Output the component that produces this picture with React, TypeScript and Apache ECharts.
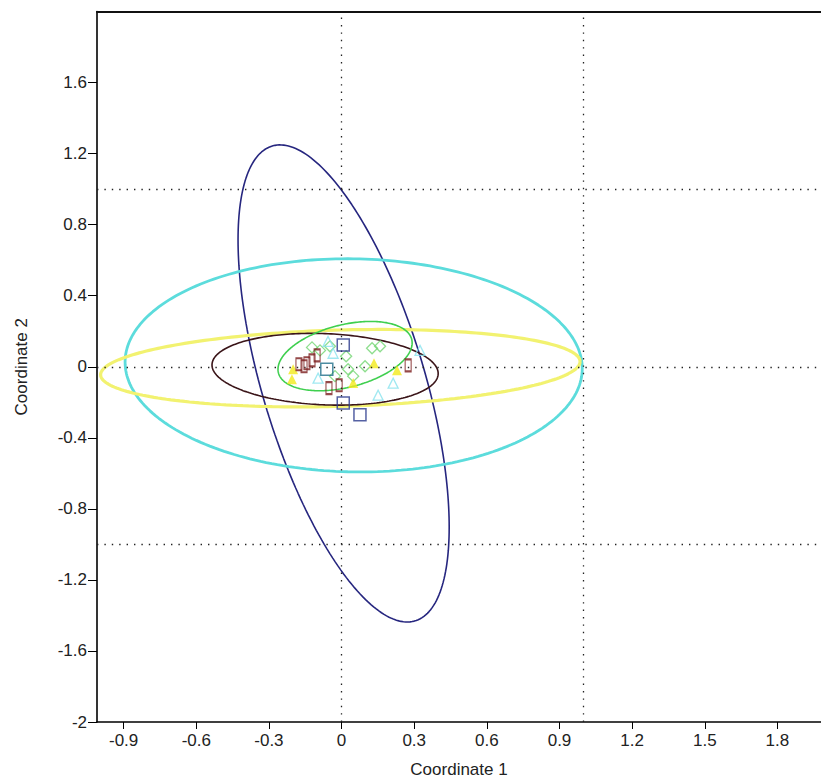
import React, { useEffect, useRef } from "react";
import * as echarts from "echarts";

// ---------- axis ticks ----------
const xTicks = [-0.9, -0.6, -0.3, 0, 0.3, 0.6, 0.9, 1.2, 1.5, 1.8];
const yTicks = [-2, -1.6, -1.2, -0.8, -0.4, 0, 0.4, 0.8, 1.2, 1.6];
const refLinesX = [0, 1];
const refLinesY = [-1, 0, 1];

// ---------- groups ----------
const navyPoints = [
  [0.007, 0.122],
  [-0.061, -0.014],
  [0.007, -0.204],
  [0.076, -0.27],
];
const cyanPoints = [
  [-0.056, 0.143],
  [-0.035, 0.076],
  [-0.097, -0.064],
  [0.151, -0.16],
  [0.213, -0.092],
  [0.324, 0.092],
];
const yellowPoints = [
  [-0.2, -0.014],
  [-0.205, -0.07],
  [0.048, -0.092],
  [0.134, 0.02],
  [0.229, -0.02],
];
const maroonPoints = [
  [-0.176, 0.014],
  [-0.155, 0.003],
  [-0.143, 0.02],
  [-0.122, 0.036],
  [-0.101, 0.064],
  [-0.052, -0.12],
  [-0.01, -0.104],
  [0.275, 0.008],
];
const greenPoints = [
  [-0.122, 0.109],
  [-0.089, 0.092],
  [-0.048, 0.115],
  [0.019, 0.059],
  [0.027, -0.014],
  [0.048, -0.053],
  [0.097, 0.003],
  [0.126, 0.104],
  [0.159, 0.115],
  [-0.027, -0.053],
];

// ---------- 95% ellipses: centre, half extents, correlation ----------
// order: navy, cyan, yellow, maroon, green
const ellipseCenterX = [0.0085, 0.05, -0.005, -0.068, 0.0145];
const ellipseCenterY = [-0.094, 0.008, -0.008, -0.014, 0.06];
const ellipseHalfX = [0.436, 0.944, 0.99, 0.467, 0.277];
const ellipseHalfY = [1.343, 0.6, 0.218, 0.202, 0.195];
const ellipseCorr = [-0.602, -0.03, 0.17, -0.12, 0.38];

// ---------- styles ----------
const ellipseColors = ["#26267f", "#5cdcdc", "#f2f270", "#3a1418", "#3fcf4f"];
const ellipseWidths = [1.6, 2.8, 3.2, 1.6, 1.6];
const FONT = "Liberation Sans, Arial, sans-serif";
const FONT_SIZE = 17;

function ellipseOutline(i: number): number[][] {
  const cx = ellipseCenterX[i];
  const cy = ellipseCenterY[i];
  const rx = ellipseHalfX[i];
  const ry = ellipseHalfY[i];
  const r = ellipseCorr[i];
  const s = Math.sqrt(1 - r * r);
  const pts: number[][] = [];
  const n = 240;
  for (let k = 0; k <= n; k++) {
    const t = (2 * Math.PI * k) / n;
    pts.push([cx + rx * Math.cos(t), cy + ry * (r * Math.cos(t) + s * Math.sin(t))]);
  }
  return pts;
}

const fmt = (v: number) => String(Math.round(v * 10) / 10);

export default function App() {
  const ref = useRef<HTMLDivElement>(null);
  useEffect(() => {
    if (!ref.current) return;
    const chart = echarts.init(ref.current, undefined, { renderer: "svg" });

    const ellipseSeries = ellipseColors.map((c, i) => ({
      type: "line",
      data: ellipseOutline(i),
      showSymbol: false,
      symbol: "none",
      smooth: false,
      silent: true,
      lineStyle: { color: c, width: ellipseWidths[i] },
      z: 2,
    }));

    const dotted = { color: "#222", width: 1.3, type: [1.4, 6] as any };

    chart.setOption({
      animation: false,
      backgroundColor: "#ffffff",
      grid: { left: 97, right: 0, top: 11.5, bottom: 57.5, containLabel: false },
      xAxis: [
        {
          type: "value",
          min: -1.01,
          max: 1.98,
          position: "bottom",
          splitLine: { show: false },
          axisLine: { show: true, onZero: false, lineStyle: { color: "#000", width: 1.6 } },
          axisTick: { show: true, customValues: xTicks, length: 7, lineStyle: { color: "#000", width: 1 } },
          axisLabel: {
            customValues: xTicks,
            formatter: fmt,
            color: "#222",
            fontFamily: FONT,
            fontSize: FONT_SIZE,
            margin: 10,
          },
          name: "Coordinate 1",
          nameLocation: "middle",
          nameGap: 39,
          nameTextStyle: { color: "#222", fontFamily: FONT, fontSize: FONT_SIZE },
        },
        {
          type: "value",
          min: -1.01,
          max: 1.98,
          position: "top",
          splitLine: { show: false },
          axisLine: { show: true, onZero: false, lineStyle: { color: "#111", width: 2 } },
          axisTick: { show: false },
          axisLabel: { show: false },
        },
      ],
      yAxis: {
        type: "value",
        min: -2,
        max: 2,
        splitLine: { show: false },
        axisLine: { show: true, onZero: false, lineStyle: { color: "#000", width: 1.6 } },
        axisTick: { show: true, customValues: yTicks, length: 9, lineStyle: { color: "#000", width: 1 } },
        axisLabel: {
          customValues: yTicks,
          formatter: fmt,
          color: "#222",
          fontFamily: FONT,
          fontSize: FONT_SIZE,
          margin: 10,
        },
        name: "Coordinate 2",
        nameLocation: "middle",
        nameGap: 67,
        nameTextStyle: { color: "#222", fontFamily: FONT, fontSize: FONT_SIZE },
      },
      series: [
        {
          type: "line",
          data: [],
          silent: true,
          markLine: {
            silent: true,
            symbol: "none",
            label: { show: false },
            lineStyle: dotted,
            data: [
              ...refLinesX.map((v) => ({ xAxis: v })),
              ...refLinesY.map((v) => ({ yAxis: v })),
            ],
          },
        },
        ...ellipseSeries,
        {
          type: "scatter",
          data: greenPoints,
          symbol: "diamond",
          symbolSize: 11,
          itemStyle: { color: "rgba(0,0,0,0)", borderColor: "#72d672", borderWidth: 1.3 },
          z: 3,
        },
        {
          type: "scatter",
          data: cyanPoints,
          symbol: "triangle",
          symbolSize: 10,
          itemStyle: { color: "rgba(0,0,0,0)", borderColor: "#88e2ee", borderWidth: 1.3 },
          z: 3,
        },
        {
          type: "scatter",
          data: yellowPoints,
          symbol: "triangle",
          symbolSize: 10,
          itemStyle: { color: "#f2ea1c" },
          z: 4,
        },
        {
          type: "scatter",
          data: maroonPoints,
          symbol: "rect",
          symbolSize: [6, 12],
          itemStyle: { color: "rgba(0,0,0,0)", borderColor: "#7a1c1c", borderWidth: 1.5 },
          z: 5,
        },
        {
          type: "scatter",
          data: navyPoints.map((p, i) =>
            i === 1
              ? { value: p, itemStyle: { borderColor: "#1f6f8a" } }
              : { value: p }
          ),
          symbol: "rect",
          symbolSize: 12,
          itemStyle: { color: "rgba(0,0,0,0)", borderColor: "#2b3a8c", borderWidth: 1.5 },
          z: 5,
        },
      ],
    });
    return () => chart.dispose();
  }, []);

  return (
    <div
      ref={ref}
      style={{ position: "fixed", left: 0, top: 0, width: 821, height: 783, background: "#fff" }}
    />
  );
}
